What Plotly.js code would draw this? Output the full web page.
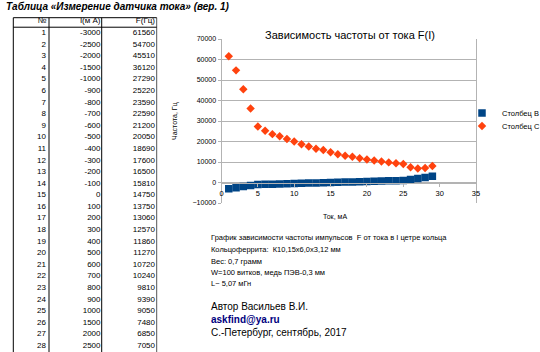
<!DOCTYPE html>
<html>
<head>
<meta charset="utf-8">
<script src="https://cdn.plot.ly/plotly-3.0.1.min.js"></script>
<style>html,body{margin:0;padding:0;background:#fff;} #chart{width:540px;height:352px;}</style>
</head>
<body>
<div id="chart"></div>
<script>
// ---- data ----
const rowNo = [1,2,3,4,5,6,7,8,9,10,11,12,13,14,15,16,17,18,19,20,21,22,23,24,25,26,27,28,29];
const currentMA = [-3000,-2500,-2000,-1500,-1000,-900,-800,-700,-600,-500,-400,-300,-200,-100,0,100,200,300,400,500,600,700,800,900,1000,1500,2000,2500,3000];
const freqHz = [61560,54700,45510,36120,27290,25220,23590,22590,21200,20050,18690,17600,16500,15810,14750,13750,13060,12570,11860,11270,10720,10240,9810,9390,9050,7480,6850,7050,8000];
const tableHeaders = ['№','I(м A)','F(Гц)'];
const visibleRows = 28;
const seriesNames = ['Столбец B','Столбец C'];

const FONT = 'Liberation Sans, Arial, sans-serif';

// ---- table (drawn on its own hidden axes: x = column, y = row) ----
const tRows = rowNo.slice(0, visibleRows);
const tableCols = [tRows, currentMA.slice(0, visibleRows), freqHz.slice(0, visibleRows)];
const traces = [];
tableCols.forEach((col, ci) => {
  traces.push({
    type: 'scatter', mode: 'text', xaxis: 'x2', yaxis: 'y2',
    x: [ci + 1].concat(tRows.map(() => ci + 1)),
    y: [0].concat(tRows),
    text: [tableHeaders[ci]].concat(col.map(String)),
    textposition: 'middle left',
    textfont: {family: FONT, size: 8, color: '#000'},
    showlegend: false, hoverinfo: 'skip', cliponaxis: false
  });
});

// ---- chart series ----
traces.push({
  type: 'scatter', mode: 'markers', name: seriesNames[0], legend: 'legend',
  x: rowNo, y: currentMA,
  marker: {symbol: 'square', size: 7.5, color: '#004586'}
});
traces.push({
  type: 'scatter', mode: 'markers', name: seriesNames[1], legend: 'legend2',
  x: rowNo, y: freqHz,
  marker: {symbol: 'diamond', size: 6.5, color: '#ff420e'}
});

// table geometry in column/row units
const colEdges = [0.40, 1.055, 2.022, 3.031];
const rowTop = -0.32, headBottom = 0.5, rowBottom = 28.6;
const shapes = [];
colEdges.forEach((cx, i) => shapes.push({type:'line', xref:'x2', yref:'y2', x0:cx, x1:cx, y0:rowTop, y1:rowBottom,
  line:{color: i === 3 ? '#555' : '#000', width:1}}));
[rowTop, headBottom].forEach(ry => shapes.push({type:'line', xref:'x2', yref:'y2', x0:colEdges[0], x1:colEdges[3], y0:ry, y1:ry, line:{color:'#000', width:1}}));

// y domain: -10000 at 203px, 70000 at 39px
const yDom = [(352-203)/352, (352-39)/352];
const zeroPos = yDom[0] + (yDom[1]-yDom[0]) * (10000/80000);

const notes = [
  'График зависимости частоты импульсов  F от тока в I цетре кольца',
  'Кольцоферрита:  К10,15х6,0х3,12 мм',
  'Вес: 0,7 грамм',
  'W=100 витков, медь ПЭВ-0,3 мм',
  'L~ 5,07 мГн'
];
const annotations = [
  {xref:'paper', yref:'paper', x:4/540, y:1-6/352, xanchor:'left', yanchor:'middle', showarrow:false,
   text:'<b><i>Таблица «Измерение датчика тока» (вер. 1)</i></b>', font:{family:FONT, size:10, color:'#000'}},
  {xref:'paper', yref:'paper', x:175/540, y:1-121/352, xanchor:'center', yanchor:'middle', showarrow:false, textangle:-90,
   text:'Частота, Гц', font:{family:FONT, size:7, color:'#000'}},
  {xref:'paper', yref:'paper', x:335/540, y:1-216/352, xanchor:'center', yanchor:'middle', showarrow:false,
   text:'Ток, мА', font:{family:FONT, size:7, color:'#000'}}
];
const noteY = [237, 249, 261, 272, 283];
notes.forEach((t, i) => annotations.push({xref:'paper', yref:'paper', x:209/540, y:1-noteY[i]/352, xanchor:'left', yanchor:'middle',
  showarrow:false, text:t, font:{family:FONT, size:7.5, color:'#000'}}));
annotations.push({xref:'paper', yref:'paper', x:209/540, y:1-306/352, xanchor:'left', yanchor:'middle', showarrow:false,
  text:'Автор Васильев В.И.', font:{family:FONT, size:10, color:'#000'}});
annotations.push({xref:'paper', yref:'paper', x:209/540, y:1-319/352, xanchor:'left', yanchor:'middle', showarrow:false,
  text:'<b>askfind@ya.ru</b>', font:{family:FONT, size:10, color:'#000080'}});
annotations.push({xref:'paper', yref:'paper', x:209/540, y:1-332/352, xanchor:'left', yanchor:'middle', showarrow:false,
  text:'С.-Петербург, сентябрь, 2017', font:{family:FONT, size:10, color:'#000'}});

const legendStyle = (ypx) => ({x: 462/540, y: 1-ypx/352, xanchor: 'left', yanchor: 'middle',
  font: {family: FONT, size: 7.5, color:'#000'}, bgcolor: 'rgba(0,0,0,0)', borderwidth: 0, itemwidth: 30});

const layout = {
  width: 540, height: 352,
  margin: {l:0, r:0, t:0, b:0, autoexpand: false},
  paper_bgcolor: '#fff', plot_bgcolor: 'rgba(0,0,0,0)',
  font: {family: FONT, color: '#000'},
  title: {text: 'Зависимость частоты от тока F(I)', x: 350/540, xanchor: 'center', y: 1-35/352, yanchor: 'middle',
    font: {family: FONT, size: 11, color: '#000'}},
  showlegend: true,
  legend: legendStyle(113),
  legend2: legendStyle(126),
  xaxis: {domain: [221.5/540, 476/540], range: [0, 35], dtick: 5, tick0: 0, showgrid: false, zeroline: false,
    anchor: 'free', position: zeroPos, showline: true, linecolor: '#b3b3b3', linewidth: 1,
    ticks: 'outside', ticklen: 3, tickcolor: '#b3b3b3', tickfont: {family: FONT, size: 7.5, color: '#000'}},
  yaxis: {domain: yDom, range: [-10000, 70000], dtick: 10000, tickformat: 'd', showgrid: true, gridcolor: '#b3b3b3',
    zeroline: false, showline: true, mirror: true, linecolor: '#b3b3b3', linewidth: 1,
    ticks: 'outside', ticklen: 3, tickcolor: '#b3b3b3', tickfont: {family: FONT, size: 7, color: '#000'}},
  xaxis2: {domain: [0, 1], range: [0.156, 10.064], visible: false, anchor: 'y2', fixedrange: true},
  yaxis2: {domain: [0, 1], range: [28.517, -1.847], visible: false, anchor: 'x2', fixedrange: true},
  shapes: shapes,
  annotations: annotations
};

Plotly.newPlot('chart', traces, layout, {staticPlot: true, displayModeBar: false});
</script>
</body>
</html>
